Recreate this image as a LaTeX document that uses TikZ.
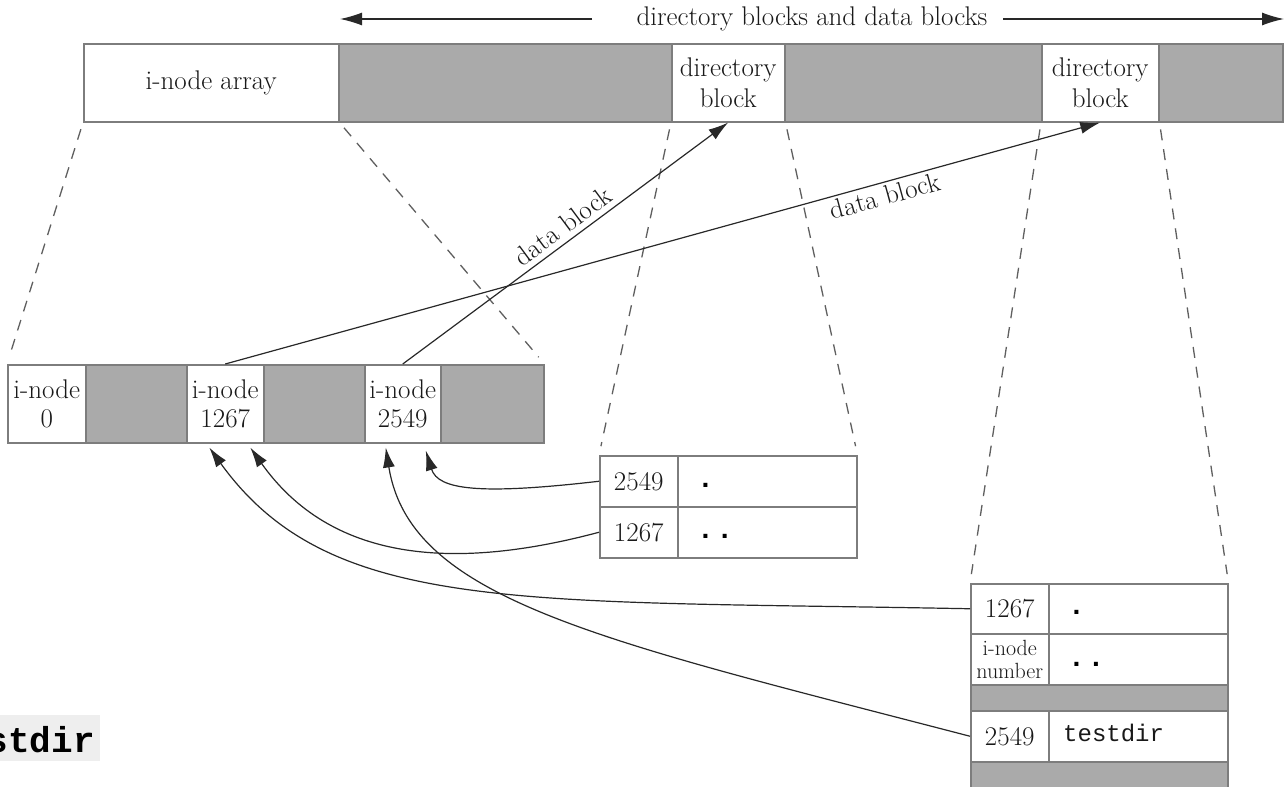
\documentclass[tikz,border=0pt]{standalone}
\usepackage{fontspec}
\newfontfamily\monofont{Liberation Mono}
\usetikzlibrary{arrows.meta,calc}
\definecolor{cellgray}{RGB}{170,170,170}
\definecolor{rulegray}{RGB}{125,125,125}
\definecolor{inkgray}{RGB}{40,40,40}
\definecolor{dashgray}{RGB}{95,95,95}
\definecolor{tagbg}{RGB}{238,238,238}
\definecolor{textink}{RGB}{25,25,25}

\begin{document}
\begin{tikzpicture}[x=1pt,y=-1pt,
  cell/.style={draw=rulegray, line width=1.5pt, fill=white, anchor=north west,
    inner sep=0pt, align=center, text=textink,
    font=\fontsize{27}{29}\selectfont},
  shadecell/.style={cell, fill=cellgray},
  entry/.style={anchor=base west, inner sep=0pt, text=black,
    font=\monofont\bfseries\fontsize{28}{28}\selectfont},
  fname/.style={anchor=base west, inner sep=0pt, text=textink,
    font=\monofont\fontsize{24}{24}\selectfont},
  lab/.style={text=textink, font=\fontsize{27}{29}\selectfont},
  zoomline/.style={draw=dashgray, line width=1.3pt, dash pattern=on 11pt off 9pt,
    shorten <=7pt, shorten >=9pt},
  ptr/.style={draw=inkgray, line width=1.2pt, -{Latex[length=20pt,width=12pt]}},
  spanptr/.style={draw=inkgray, line width=1.2pt, -{Latex[length=22pt,width=13pt]}},
]
\useasboundingbox (0,0) rectangle (1288,787);

% ---- disk partition: i-node array followed by data area
\node[cell, minimum width=255pt, minimum height=78pt] (ia) at (83,43) {i-node array};
\node[shadecell, minimum width=333pt, minimum height=78pt] (g1) at (338,43) {};
\node[cell, minimum width=113pt, minimum height=78pt, font=\fontsize{27}{31}\selectfont] (db1) at (671,43) {directory\\block};
\node[shadecell, minimum width=257pt, minimum height=78pt] (g2) at (784,43) {};
\node[cell, minimum width=117pt, minimum height=78pt, font=\fontsize{27}{31}\selectfont] (db2) at (1041,43) {directory\\block};
\node[shadecell, minimum width=124pt, minimum height=78pt] (g3) at (1158,43) {};

% ---- extent of the data area
\node[lab] (span) at (812,19) {directory blocks and data blocks};
\coordinate (spanLs) at (592,19);
\coordinate (spanL) at (340,19);
\coordinate (spanRs) at (1003,19);
\coordinate (spanR) at (1284,19);
\draw[spanptr] (spanLs) -- (spanL);
\draw[spanptr] (spanRs) -- (spanR);

% ---- expanded i-node array
\node[cell, minimum width=78pt, minimum height=78pt] (in0) at (7,364) {i-node\\0};
\node[shadecell, minimum width=101pt, minimum height=78pt] (gA) at (85,364) {};
\node[cell, minimum width=77pt, minimum height=78pt] (in1267) at (186,364) {i-node\\1267};
\node[shadecell, minimum width=101pt, minimum height=78pt] (gB) at (263,364) {};
\node[cell, minimum width=76pt, minimum height=78pt] (in2549) at (364,364) {i-node\\2549};
\node[shadecell, minimum width=103pt, minimum height=78pt] (gC) at (440,364) {};

% ---- first directory block (testdir itself)
\node[cell, minimum width=78pt, minimum height=51pt] (d1n1) at (599,455) {2549};
\node[cell, minimum width=179pt, minimum height=51pt] (d1e1) at (677,455) {};
\node[cell, minimum width=78pt, minimum height=51pt] (d1n2) at (599,506) {1267};
\node[cell, minimum width=179pt, minimum height=51pt] (d1e2) at (677,506) {};
\node[entry] (d1t1) at (697,487) {.};
\node[entry] (d1t2) at (697,538) {.\kern2.5pt.};

% ---- second directory block (parent directory)
\node[cell, minimum width=78pt, minimum height=50pt] (d2n1) at (970,583) {1267};
\node[cell, minimum width=179pt, minimum height=50pt] (d2e1) at (1048,583) {};
\node[cell, minimum width=78pt, minimum height=51pt, font=\fontsize{22}{23}\selectfont] (d2n2) at (970,633) {i-node\\number};
\node[cell, minimum width=179pt, minimum height=51pt] (d2e2) at (1048,633) {};
\node[shadecell, minimum width=257pt, minimum height=26pt] (d2g1) at (970,684) {};
\node[cell, minimum width=78pt, minimum height=51pt] (d2n3) at (970,710) {2549};
\node[cell, minimum width=179pt, minimum height=51pt] (d2e3) at (1048,710) {};
\node[shadecell, minimum width=257pt, minimum height=32pt] (d2g2) at (970,761) {};
\node[entry] (d2t1) at (1068,614) {.};
\node[entry] (d2t2) at (1068,666) {.\kern2.5pt.};
\node[fname] (d2t3) at (1063,741) {testdir};

% ---- dashed lines expanding the blocks
\draw[zoomline] (ia.south west) -- (in0.north west);
\draw[zoomline] (ia.south east) -- (gC.north east);
\draw[zoomline] (db1.south west) -- (d1n1.north west);
\draw[zoomline] (db1.south east) -- (d1e1.north east);
\draw[zoomline] (db2.south west) -- (d2n1.north west);
\draw[zoomline] (db2.south east) -- (d2e1.north east);

% ---- i-nodes point to their data blocks
\draw[ptr] (in2549.north) -- (db1.south)
  node[lab, pos=0.52, sloped, above=2pt] (lab1) {data block};
\draw[ptr] (in1267.north) -- (db2.south)
  node[lab, pos=0.75, sloped, below] (lab2) {data block};

% ---- directory entries point to i-nodes
\draw[ptr] (d1n1.west) .. controls (480,495) and (438,490) .. ([xshift=23pt,yshift=-7pt]in2549.south);
\draw[ptr] (d1n2.west) .. controls (450,572) and (330,560) .. ([xshift=25pt,yshift=-4pt]in1267.south);
\draw[ptr] (d2n1.west) .. controls (520,600) and (330,615) .. ([xshift=-16pt,yshift=-4pt]in1267.south);
\draw[ptr] (d2n3.west) .. controls (600,640) and (410,600) .. ([xshift=-17pt,yshift=-4pt]in2549.south);

% ---- caption fragment at the lower left
\node[anchor=base east, fill=tagbg, inner xsep=5pt, inner ysep=0pt,
  text height=37pt, text depth=9pt,
  font=\monofont\bfseries\fontsize{36}{36}\selectfont] (tag) at (100,752) {stdir};
\end{tikzpicture}
\end{document}
